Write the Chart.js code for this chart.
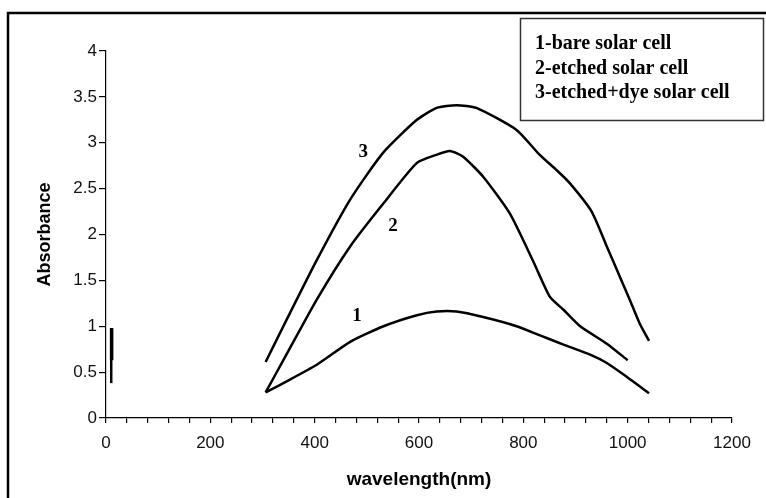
<!DOCTYPE html>
<html>
<head>
<meta charset="utf-8">
<title>Absorbance spectra</title>
<script src="https://cdn.jsdelivr.net/npm/chart.js@4.4.0/dist/chart.umd.min.js"></script>
<style>
  html, body { margin: 0; padding: 0; background: #fff; }
  #wrap { position: relative; width: 766px; height: 498px; }
</style>
</head>
<body>
<div id="wrap"><canvas id="absChart" width="766" height="498"></canvas></div>
<script>
// absorbance vs wavelength (nm) for the three cells
const bareWl  = [306, 340, 404, 468, 532, 596, 634, 672, 723, 787, 832, 877, 928, 960, 998, 1041];
const bareAbs = [0.28, 0.38, 0.58, 0.83, 1.00, 1.12, 1.16, 1.16, 1.10, 1.00, 0.90, 0.80, 0.69, 0.60, 0.45, 0.27];

const etchedWl  = [306, 340, 404, 468, 532, 596, 634, 659, 684, 723, 774, 818, 851, 877, 909, 960, 1000];
const etchedAbs = [0.28, 0.63, 1.29, 1.87, 2.34, 2.78, 2.87, 2.91, 2.85, 2.63, 2.23, 1.72, 1.32, 1.18, 1.00, 0.81, 0.63];

const dyeWl  = [306, 340, 404, 468, 531, 596, 634, 672, 710, 787, 831, 864, 889, 931, 960, 985, 1004, 1023, 1041];
const dyeAbs = [0.61, 1.00, 1.72, 2.38, 2.89, 3.25, 3.38, 3.41, 3.38, 3.14, 2.87, 2.70, 2.56, 2.25, 1.87, 1.54, 1.29, 1.03, 0.84];

// short stray mark next to the y axis
const markWl   = [10, 10];
const markAbs  = [0.38, 0.98];
const markWl2  = [10.8, 10.8];
const markAbs2 = [0.63, 0.98];

// axis ticks
const xLabelTicks = [0, 200, 400, 600, 800, 1000, 1200];
const yTicks = [0, 0.5, 1, 1.5, 2, 2.5, 3, 3.5, 4];

// curve numbers and legend text
const curveTags = ['1', '2', '3'];
const tagWl  = [481, 550, 493];
const tagAbs = [1.11, 2.09, 2.90];
const legendLines = ['1-bare solar cell', '2-etched solar cell', '3-etched+dye solar cell'];

function pts(xs, ys) { return xs.map((v, i) => ({ x: v, y: ys[i] })); }

function curve(xs, ys) {
  return {
    data: pts(xs, ys),
    borderColor: '#000',
    borderWidth: 2.5,
    pointRadius: 0,
    tension: 0.2,
    fill: false
  };
}

const overlay = {
  id: 'overlay',
  afterDraw(chart) {
    const { ctx, chartArea, scales: { x, y } } = chart;
    ctx.save();

    // outer frame
    ctx.strokeStyle = '#000';
    ctx.lineWidth = 2.5;
    ctx.strokeRect(8, 13, 900, 700);

    // legend box
    ctx.fillStyle = '#fff';
    ctx.fillRect(520, 18, 244, 102);
    ctx.strokeStyle = '#333';
    ctx.lineWidth = 1.5;
    ctx.strokeRect(520.5, 18.5, 243, 102);
    ctx.fillStyle = '#000';
    ctx.font = 'bold 20px "Liberation Serif", "Times New Roman", serif';
    ctx.textAlign = 'left';
    ctx.textBaseline = 'alphabetic';
    legendLines.forEach((t, i) => ctx.fillText(t, 535, 49 + i * 24.7));

    // numbers beside the curves
    ctx.font = 'bold 19px "Liberation Serif", "Times New Roman", serif';
    ctx.textAlign = 'center';
    ctx.textBaseline = 'middle';
    curveTags.forEach((t, i) => {
      ctx.fillText(t, x.getPixelForValue(tagWl[i]), y.getPixelForValue(tagAbs[i]));
    });

    // axis titles
    ctx.font = 'bold 19px "Liberation Sans", Arial, sans-serif';
    ctx.fillText('wavelength(nm)', (chartArea.left + chartArea.right) / 2, 480);
    ctx.translate(45, (chartArea.top + chartArea.bottom) / 2);
    ctx.rotate(-Math.PI / 2);
    ctx.font = 'bold 18px "Liberation Sans", Arial, sans-serif';
    ctx.fillText('Absorbance', 0, 0);
    ctx.restore();
  }
};

const tickFont = { family: '"Liberation Sans", Arial, sans-serif', size: 17 };

new Chart(document.getElementById('absChart'), {
  type: 'line',
  data: {
    datasets: [
      curve(bareWl, bareAbs),
      curve(etchedWl, etchedAbs),
      curve(dyeWl, dyeAbs),
      { data: pts(markWl, markAbs), borderColor: '#000', borderWidth: 2.5, pointRadius: 0 },
      { data: pts(markWl2, markAbs2), borderColor: '#000', borderWidth: 3.5, pointRadius: 0 }
    ]
  },
  options: {
    responsive: false,
    animation: false,
    layout: { padding: { left: 0, top: 51, right: 34, bottom: 0 } },
    plugins: { legend: { display: false }, tooltip: { enabled: false } },
    scales: {
      x: {
        type: 'linear',
        min: 0,
        max: 1200,
        afterFit: (s) => { s.height = 80; },
        border: { color: '#000', width: 1.2 },
        grid: { drawOnChartArea: false, color: '#000', tickLength: 5, lineWidth: 1.2 },
        ticks: {
          stepSize: 40,
          autoSkip: false,
          maxRotation: 0,
          padding: 10,
          color: '#111',
          font: tickFont,
          callback: (v) => xLabelTicks.includes(v) ? String(v) : ''
        }
      },
      y: {
        min: 0,
        max: 4,
        afterFit: (s) => { s.width = 106; },
        border: { color: '#000', width: 1.2 },
        grid: { drawOnChartArea: false, color: '#000', tickLength: 7, lineWidth: 1.2 },
        ticks: {
          stepSize: 0.5,
          padding: 2,
          color: '#111',
          font: tickFont,
          callback: (v) => yTicks.includes(v) ? String(v) : ''
        }
      }
    }
  },
  plugins: [overlay]
});
</script>
</body>
</html>
